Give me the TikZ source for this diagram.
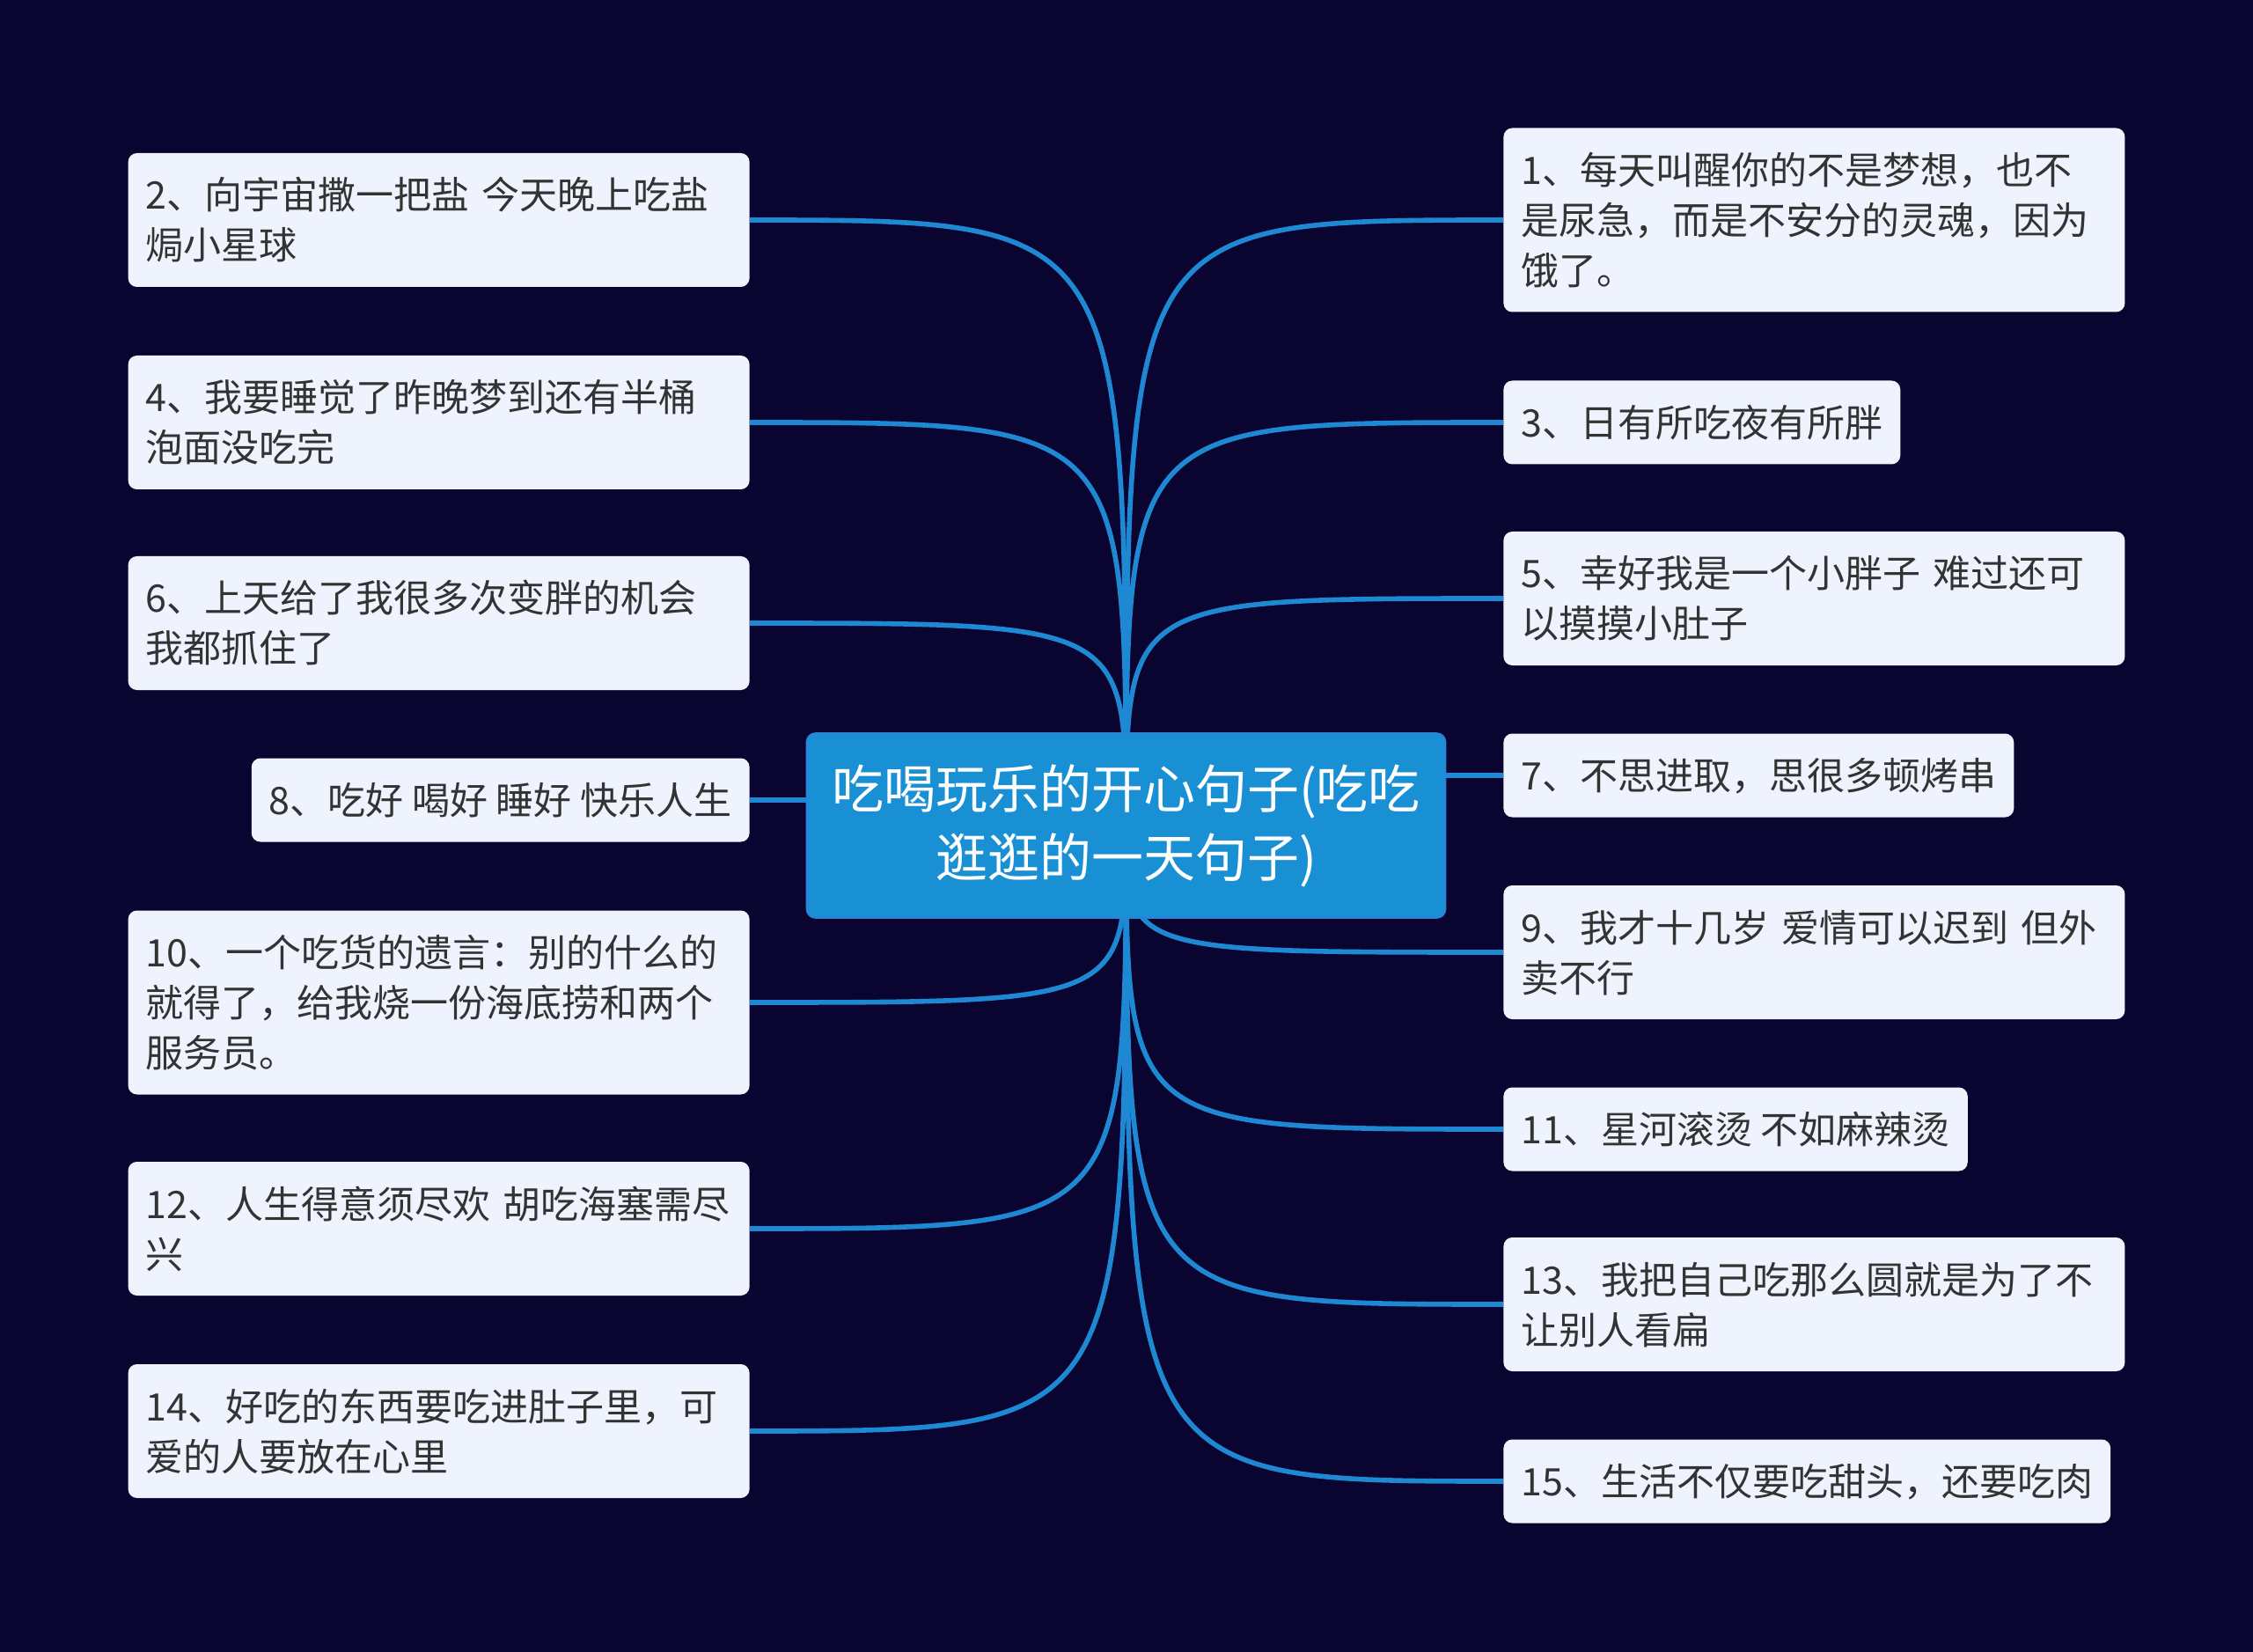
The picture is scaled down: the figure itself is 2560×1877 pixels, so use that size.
\documentclass[tikz,border=0pt]{standalone}
\usepackage{fontspec}
\setmainfont{Noto Sans CJK SC}
\usetikzlibrary{backgrounds}
\definecolor{bgnavy}{HTML}{0A0530}
\definecolor{rootblue}{HTML}{1A90D4}
\definecolor{rootedge}{HTML}{2F7FDC}
\definecolor{leafwhite}{HTML}{EEF3FD}
\definecolor{leaftext}{HTML}{333333}
\definecolor{linkblue}{HTML}{1E88D2}
\newcommand\topstrut{\rule{0pt}{22.5pt}}
\newcommand\botstrut{\rule[-6pt]{0pt}{6pt}}

\begin{document}
\begin{tikzpicture}[
  x=0.5pt, y=-0.5pt,
  root/.style={fill=rootblue, draw=rootedge, line width=0.8pt, rounded corners=5pt, minimum width=363pt, minimum height=105pt, align=center, text=white, font=\fontsize{29.5}{39}\selectfont},
  leaf/.style={fill=leafwhite, rounded corners=5pt, align=left, text=leaftext, inner xsep=10pt, inner ysep=9.5pt, font=\fontsize{21.5}{28.5}\selectfont, execute at begin node=\topstrut, execute at end node=\botstrut},
  wide/.style={leaf, text width=333pt},
  link/.style={draw=linkblue, line width=2.8pt}
]
\useasboundingbox (0,0) rectangle (2560,1877);
\begin{scope}[on background layer]
  \fill[bgnavy] (0,0) rectangle (2560,1877);
\end{scope}

\node[root] (root) at (1279.5,938) {吃喝玩乐的开心句子(吃吃\\逛逛的一天句子)};

% left side
\node[wide, anchor=east] (q2) at (852,250) {2、向宇宙撒一把盐 今天晚上吃盐\\焗小星球};
\node[wide, anchor=east] (q4) at (852,480) {4、我要睡觉了昨晚梦到还有半桶\\泡面没吃完};
\node[wide, anchor=east] (q6) at (852,708) {6、上天给了我很多次变胖的机会\\我都抓住了};
\node[leaf, anchor=east] (q8) at (852,909) {8、吃好 喝好 睡好 快乐人生};
\node[wide, anchor=east] (q10) at (852,1139) {10、一个吃货的遗言：别的什么的\\就得了，给我烧一份海底捞和两个\\服务员。};
\node[wide, anchor=east] (q12) at (852,1396) {12、人生得意须尽欢 胡吃海塞需尽\\兴};
\node[wide, anchor=east] (q14) at (852,1626) {14、好吃的东西要吃进肚子里，可\\爱的人要放在心里};

% right side
\node[wide, anchor=west] (q1) at (1708,250) {1、每天叫醒你的不是梦想，也不\\是尿急，而是不安分的灵魂，因为\\饿了。};
\node[leaf, anchor=west] (q3) at (1708,480) {3、日有所吃夜有所胖};
\node[wide, anchor=west] (q5) at (1708,680) {5、幸好我是一个小胖子 难过还可\\以摸摸小肚子};
\node[leaf, anchor=west] (q7) at (1708,881) {7、不思进取，思很多顿烤串};
\node[wide, anchor=west] (q9) at (1708,1082) {9、我才十几岁 爱情可以迟到 但外\\卖不行};
\node[leaf, anchor=west] (q11) at (1708,1283) {11、星河滚烫 不如麻辣烫};
\node[wide, anchor=west] (q13) at (1708,1482) {13、我把自己吃那么圆就是为了不\\让别人看扁};
\node[leaf, anchor=west] (q15) at (1708,1683) {15、生活不仅要吃甜头，还要吃肉};

\begin{scope}[on background layer]
  \foreach \n in {q2,q4,q6,q8,q10,q12,q14}
    \draw[link] (root.center) .. controls (root.center |- \n.east) .. (\n.east);
  \foreach \n in {q1,q3,q5,q7,q9,q11,q13,q15}
    \draw[link] (root.center) .. controls (root.center |- \n.west) .. (\n.west);
\end{scope}
\end{tikzpicture}
\end{document}
